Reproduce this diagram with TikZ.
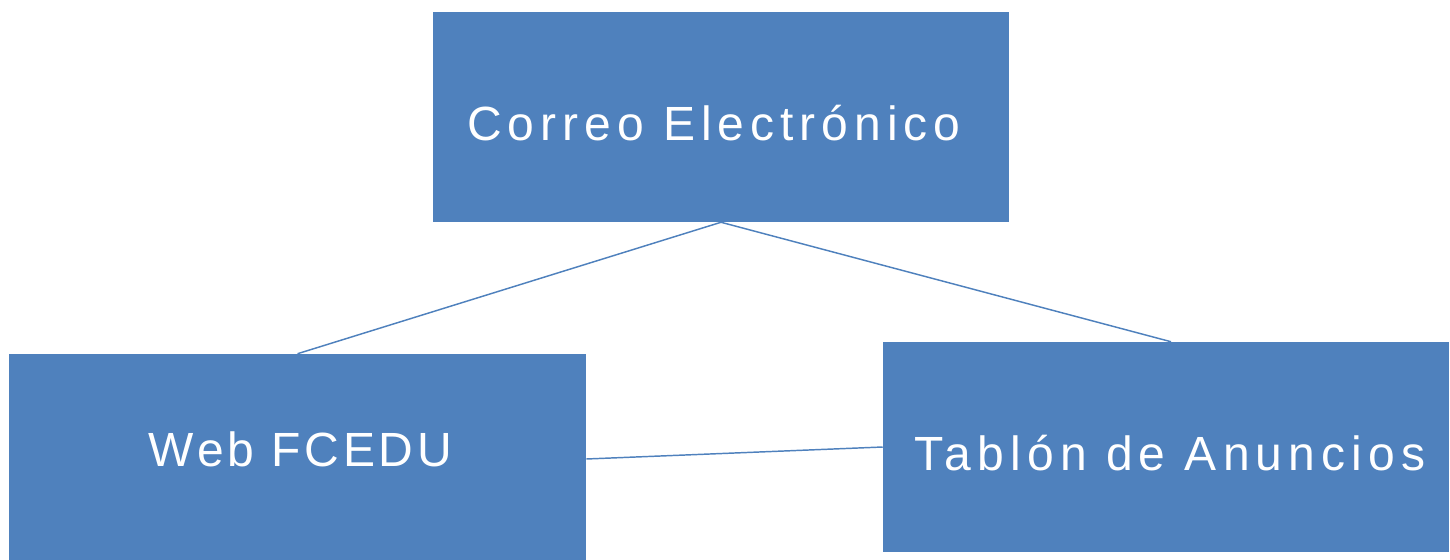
\documentclass[tikz,border=0pt]{standalone}
\usepackage{fontspec}
\setmainfont{Liberation Sans}
\definecolor{boxblue}{HTML}{4F81BD}
% #1 lowering of baseline, #2 letter spacing, #3 horizontal shift, #4 text
\newcommand{\boxtext}[4]{\raisebox{-#1}[0pt][0pt]{\makebox[0pt]{\kern #3\relax\addfontfeature{LetterSpace=#2}#4\kern -#3\relax}}}
\begin{document}
\begin{tikzpicture}[x=0.75pt,y=-0.75pt,
  box/.style={rectangle, fill=boxblue, draw=none, text=white, inner sep=0pt,
    font=\fontsize{36}{43}\selectfont},
  link/.style={draw=boxblue, line width=1.1pt}]
\useasboundingbox (0,0) rectangle (1450,560);
\node[box, minimum width=432pt, minimum height=157.5pt] (top) at (721,117) {\boxtext{18pt}{12.5}{-5.25pt}{Correo Electrónico}};
\node[box, minimum width=432.75pt, minimum height=157.5pt] (left) at (297.5,459) {\boxtext{5.25pt}{8}{2.25pt}{Web FCEDU}};
\node[box, minimum width=424.5pt, minimum height=157.5pt] (right) at (1166,447) {\boxtext{17.25pt}{12.7}{3pt}{Tablón de Anuncios}};
\draw[link] (top.south) -- (left.north);
\draw[link] (top.south) -- ([xshift=3.75pt]right.north);
\draw[link] (left.east) -- (right.west);
\end{tikzpicture}
\end{document}
